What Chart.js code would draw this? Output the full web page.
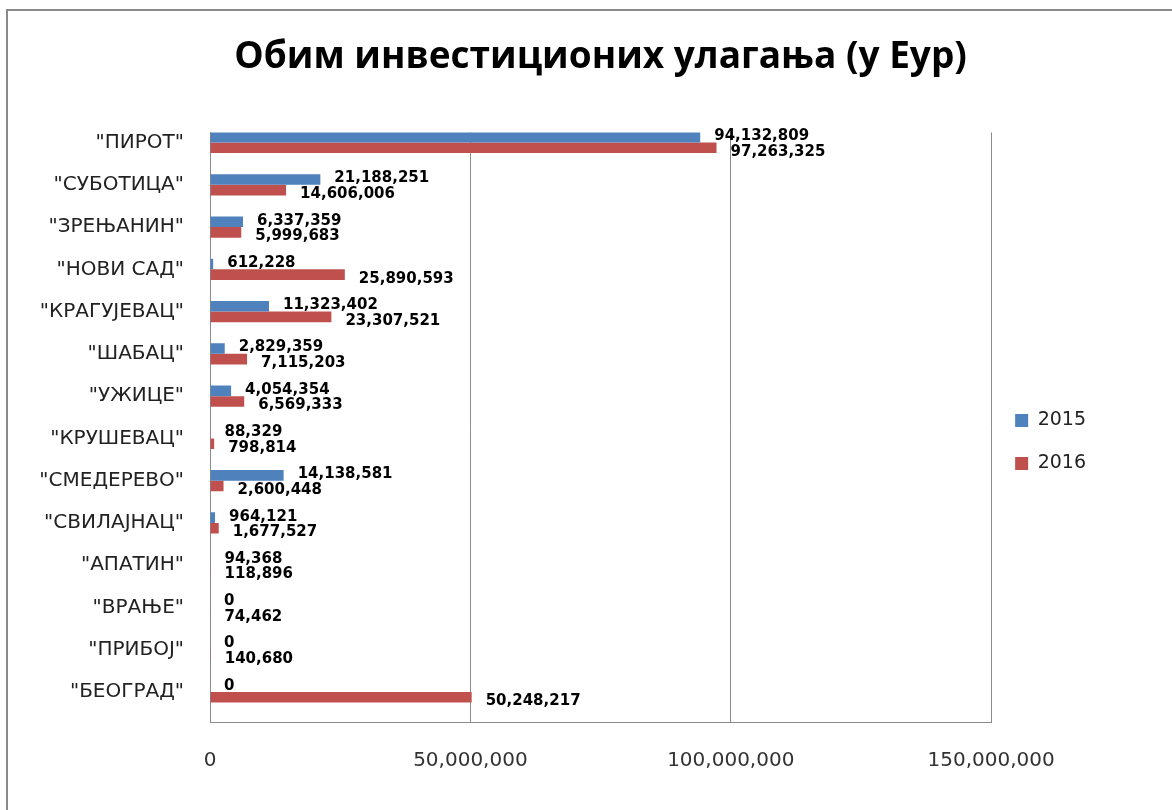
<!DOCTYPE html>
<html>
<head>
<meta charset="utf-8">
<script src="https://cdn.jsdelivr.net/npm/chart.js@4.4.0/dist/chart.umd.min.js"></script>
<style>
  html, body { margin: 0; padding: 0; background: #fff; overflow: hidden; }
  #wrap { position: relative; width: 1172px; height: 810px; }
  #frame {
    position: absolute; left: 6px; top: 9px; width: 1200px; height: 850px;
    border: 2px solid #8a8a8a; pointer-events: none;
  }
</style>
</head>
<body>
<div id="wrap">
  <canvas id="chart" width="1172" height="810"></canvas>
  <div id="frame"></div>
</div>
<script>
// municipalities, top to bottom
const cities = [
  '"ПИРОТ"', '"СУБОТИЦА"', '"ЗРЕЊАНИН"', '"НОВИ САД"', '"КРАГУЈЕВАЦ"',
  '"ШАБАЦ"', '"УЖИЦЕ"', '"КРУШЕВАЦ"', '"СМЕДЕРЕВО"', '"СВИЛАЈНАЦ"',
  '"АПАТИН"', '"ВРАЊЕ"', '"ПРИБОЈ"', '"БЕОГРАД"'
];
const values2015 = [
  94132809, 21188251, 6337359, 612228, 11323402,
  2829359, 4054354, 88329, 14138581, 964121,
  94368, 0, 0, 0
];
const values2016 = [
  97263325, 14606006, 5999683, 25890593, 23307521,
  7115203, 6569333, 798814, 2600448, 1677527,
  118896, 74462, 140680, 50248217
];
const xTicks = [0, 50000000, 100000000, 150000000];

const fmt = v => v.toLocaleString('en-US');

// value labels next to the bar ends
const valueLabels = {
  id: 'valueLabels',
  afterDatasetsDraw(chart) {
    const ctx = chart.ctx;
    ctx.save();
    ctx.font = 'bold 15px "DejaVu Sans"';
    ctx.fillStyle = '#000';
    ctx.textAlign = 'left';
    ctx.textBaseline = 'middle';
    chart.data.datasets.forEach((ds, di) => {
      chart.getDatasetMeta(di).data.forEach((bar, i) => {
        const dy = di === 0 ? -1 : 4;
        ctx.fillText(fmt(ds.data[i].x), bar.x + 14, bar.y + dy);
      });
    });
    ctx.restore();
  }
};

new Chart(document.getElementById('chart'), {
  type: 'bar',
  data: {
    datasets: [
      {
        label: '2015',
        data: cities.map((c, i) => ({ x: values2015[i], y: i })),
        backgroundColor: '#4F81BD',
        borderWidth: 0
      },
      {
        label: '2016',
        data: cities.map((c, i) => ({ x: values2016[i], y: i })),
        backgroundColor: '#C0504D',
        borderWidth: 0
      }
    ]
  },
  options: {
    indexAxis: 'y',
    responsive: false,
    animation: false,
    categoryPercentage: 0.5,
    barPercentage: 1,
    layout: { padding: { left: 0, right: 76, top: 0, bottom: 0 } },
    plugins: {
      title: {
        display: true,
        fullSize: false,
        text: 'Обим инвестиционих улагања (у Еур)',
        font: { family: '"Open Sans"', size: 37, weight: 'bold' },
        color: '#000',
        padding: { top: 35, bottom: 53 }
      },
      legend: {
        position: 'right',
        // empty title only pushes the items down
        title: { display: true, text: ' ', font: { size: 10 }, padding: { top: 62, bottom: 0 } },
        labels: {
          boxWidth: 13,
          boxHeight: 13,
          padding: 24,
          color: '#222',
          font: { family: '"DejaVu Sans"', size: 19 }
        }
      },
      tooltip: { enabled: false }
    },
    scales: {
      x: {
        type: 'linear',
        min: 0,
        max: 150000000,
        afterBuildTicks: s => { s.ticks = xTicks.map(v => ({ value: v })); },
        afterFit: s => { s.height = 88; },
        ticks: {
          padding: 27,
          color: '#333',
          font: { family: '"DejaVu Sans"', size: 20 },
          callback: v => fmt(v)
        },
        grid: { color: '#8c8c8c', drawTicks: false },
        border: { color: '#8c8c8c' }
      },
      y: {
        type: 'linear',
        reverse: true,
        offset: false,
        min: -0.24,
        max: 13.71,
        afterBuildTicks: s => { s.ticks = cities.map((c, i) => ({ value: i })); },
        afterFit: s => { s.width = 210; },
        ticks: {
          padding: 26,
          autoSkip: false,
          color: '#222',
          font: { family: '"DejaVu Sans"', size: 20 },
          callback: v => cities[v]
        },
        grid: { display: false, drawTicks: false },
        border: { color: '#8c8c8c' }
      }
    }
  },
  plugins: [valueLabels]
});
</script>
</body>
</html>
